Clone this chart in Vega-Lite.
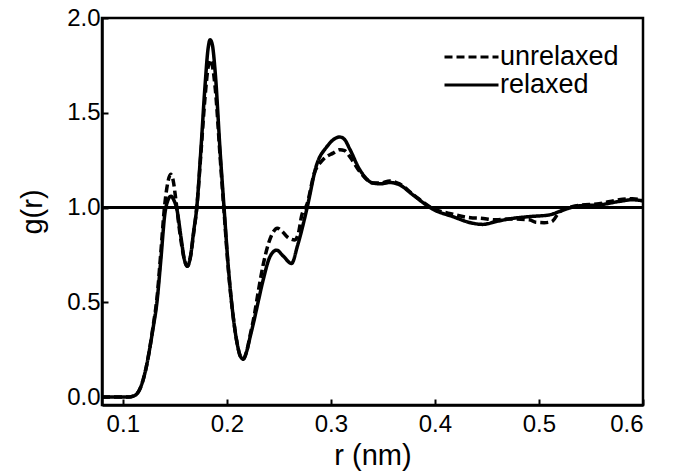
{
  "$schema": "https://vega.github.io/schema/vega-lite/v6.json",
  "width": 541,
  "height": 387,
  "autosize": {"type": "none"},
  "padding": {"left": 102, "top": 18, "right": 31, "bottom": 68},
  "background": "white",
  "config": {
    "font": "Liberation Sans",
    "view": {"stroke": "black", "strokeWidth": 2.5},
    "axis": {
      "domainColor": "black",
      "domainWidth": 2.5,
      "tickColor": "black",
      "tickWidth": 2,
      "tickSize": -6,
      "labelColor": "black",
      "labelFont": "Liberation Sans",
      "labelFontSize": 24,
      "titleColor": "black",
      "titleFont": "Liberation Sans",
      "titleFontSize": 29,
      "titleFontWeight": "normal",
      "grid": false
    }
  },
  "data": {
    "values": [
      {"series": "relaxed", "r": 0.080, "g": 0},
      {"series": "relaxed", "r": 0.095, "g": 0},
      {"series": "relaxed", "r": 0.105, "g": 0},
      {"series": "relaxed", "r": 0.110, "g": 0.005},
      {"series": "relaxed", "r": 0.114, "g": 0.02},
      {"series": "relaxed", "r": 0.117, "g": 0.05},
      {"series": "relaxed", "r": 0.120, "g": 0.10},
      {"series": "relaxed", "r": 0.123, "g": 0.17},
      {"series": "relaxed", "r": 0.126, "g": 0.26},
      {"series": "relaxed", "r": 0.129, "g": 0.36},
      {"series": "relaxed", "r": 0.1328, "g": 0.50},
      {"series": "relaxed", "r": 0.1365, "g": 0.72},
      {"series": "relaxed", "r": 0.1405, "g": 0.97},
      {"series": "relaxed", "r": 0.1435, "g": 1.04},
      {"series": "relaxed", "r": 0.1462, "g": 1.06},
      {"series": "relaxed", "r": 0.149, "g": 1.04},
      {"series": "relaxed", "r": 0.152, "g": 0.99},
      {"series": "relaxed", "r": 0.156, "g": 0.84},
      {"series": "relaxed", "r": 0.159, "g": 0.73},
      {"series": "relaxed", "r": 0.162, "g": 0.69},
      {"series": "relaxed", "r": 0.165, "g": 0.74},
      {"series": "relaxed", "r": 0.168, "g": 0.87},
      {"series": "relaxed", "r": 0.1711, "g": 1.0},
      {"series": "relaxed", "r": 0.175, "g": 1.30},
      {"series": "relaxed", "r": 0.179, "g": 1.64},
      {"series": "relaxed", "r": 0.182, "g": 1.84},
      {"series": "relaxed", "r": 0.1839, "g": 1.885},
      {"series": "relaxed", "r": 0.186, "g": 1.86},
      {"series": "relaxed", "r": 0.189, "g": 1.70},
      {"series": "relaxed", "r": 0.1935, "g": 1.30},
      {"series": "relaxed", "r": 0.1973, "g": 1.0},
      {"series": "relaxed", "r": 0.2015, "g": 0.68},
      {"series": "relaxed", "r": 0.2062, "g": 0.42},
      {"series": "relaxed", "r": 0.210, "g": 0.28},
      {"series": "relaxed", "r": 0.213, "g": 0.215},
      {"series": "relaxed", "r": 0.2158, "g": 0.20},
      {"series": "relaxed", "r": 0.219, "g": 0.24},
      {"series": "relaxed", "r": 0.2225, "g": 0.32},
      {"series": "relaxed", "r": 0.226, "g": 0.40},
      {"series": "relaxed", "r": 0.230, "g": 0.50},
      {"series": "relaxed", "r": 0.235, "g": 0.62},
      {"series": "relaxed", "r": 0.2414, "g": 0.74},
      {"series": "relaxed", "r": 0.2478, "g": 0.775},
      {"series": "relaxed", "r": 0.254, "g": 0.745},
      {"series": "relaxed", "r": 0.2622, "g": 0.705},
      {"series": "relaxed", "r": 0.268, "g": 0.80},
      {"series": "relaxed", "r": 0.2772, "g": 1.0},
      {"series": "relaxed", "r": 0.286, "g": 1.22},
      {"series": "relaxed", "r": 0.296, "g": 1.32},
      {"series": "relaxed", "r": 0.3085, "g": 1.372},
      {"series": "relaxed", "r": 0.313, "g": 1.36},
      {"series": "relaxed", "r": 0.318, "g": 1.31},
      {"series": "relaxed", "r": 0.3277, "g": 1.20},
      {"series": "relaxed", "r": 0.3405, "g": 1.129},
      {"series": "relaxed", "r": 0.348, "g": 1.125},
      {"series": "relaxed", "r": 0.3565, "g": 1.132},
      {"series": "relaxed", "r": 0.366, "g": 1.12},
      {"series": "relaxed", "r": 0.3788, "g": 1.067},
      {"series": "relaxed", "r": 0.398, "g": 0.991},
      {"series": "relaxed", "r": 0.4172, "g": 0.952},
      {"series": "relaxed", "r": 0.4363, "g": 0.917},
      {"series": "relaxed", "r": 0.446, "g": 0.911},
      {"series": "relaxed", "r": 0.4588, "g": 0.926},
      {"series": "relaxed", "r": 0.4715, "g": 0.94},
      {"series": "relaxed", "r": 0.4907, "g": 0.952},
      {"series": "relaxed", "r": 0.510, "g": 0.961},
      {"series": "relaxed", "r": 0.5195, "g": 0.979},
      {"series": "relaxed", "r": 0.529, "g": 0.997},
      {"series": "relaxed", "r": 0.5386, "g": 1.009},
      {"series": "relaxed", "r": 0.5578, "g": 1.014},
      {"series": "relaxed", "r": 0.577, "g": 1.032},
      {"series": "relaxed", "r": 0.5897, "g": 1.041},
      {"series": "relaxed", "r": 0.600, "g": 1.035},

      {"series": "unrelaxed", "r": 0.080, "g": 0},
      {"series": "unrelaxed", "r": 0.095, "g": 0},
      {"series": "unrelaxed", "r": 0.105, "g": 0},
      {"series": "unrelaxed", "r": 0.110, "g": 0.005},
      {"series": "unrelaxed", "r": 0.114, "g": 0.02},
      {"series": "unrelaxed", "r": 0.117, "g": 0.05},
      {"series": "unrelaxed", "r": 0.120, "g": 0.10},
      {"series": "unrelaxed", "r": 0.123, "g": 0.17},
      {"series": "unrelaxed", "r": 0.126, "g": 0.26},
      {"series": "unrelaxed", "r": 0.129, "g": 0.37},
      {"series": "unrelaxed", "r": 0.1328, "g": 0.52},
      {"series": "unrelaxed", "r": 0.1365, "g": 0.76},
      {"series": "unrelaxed", "r": 0.1400, "g": 1.00},
      {"series": "unrelaxed", "r": 0.1432, "g": 1.13},
      {"series": "unrelaxed", "r": 0.146, "g": 1.175},
      {"series": "unrelaxed", "r": 0.1485, "g": 1.14},
      {"series": "unrelaxed", "r": 0.151, "g": 1.04},
      {"series": "unrelaxed", "r": 0.155, "g": 0.86},
      {"series": "unrelaxed", "r": 0.159, "g": 0.73},
      {"series": "unrelaxed", "r": 0.162, "g": 0.69},
      {"series": "unrelaxed", "r": 0.165, "g": 0.74},
      {"series": "unrelaxed", "r": 0.168, "g": 0.86},
      {"series": "unrelaxed", "r": 0.1711, "g": 1.0},
      {"series": "unrelaxed", "r": 0.175, "g": 1.28},
      {"series": "unrelaxed", "r": 0.179, "g": 1.58},
      {"series": "unrelaxed", "r": 0.182, "g": 1.74},
      {"series": "unrelaxed", "r": 0.184, "g": 1.78},
      {"series": "unrelaxed", "r": 0.186, "g": 1.75},
      {"series": "unrelaxed", "r": 0.189, "g": 1.62},
      {"series": "unrelaxed", "r": 0.1935, "g": 1.27},
      {"series": "unrelaxed", "r": 0.1973, "g": 0.98},
      {"series": "unrelaxed", "r": 0.2015, "g": 0.67},
      {"series": "unrelaxed", "r": 0.2062, "g": 0.42},
      {"series": "unrelaxed", "r": 0.210, "g": 0.28},
      {"series": "unrelaxed", "r": 0.213, "g": 0.215},
      {"series": "unrelaxed", "r": 0.2158, "g": 0.20},
      {"series": "unrelaxed", "r": 0.219, "g": 0.24},
      {"series": "unrelaxed", "r": 0.2225, "g": 0.33},
      {"series": "unrelaxed", "r": 0.226, "g": 0.42},
      {"series": "unrelaxed", "r": 0.230, "g": 0.55},
      {"series": "unrelaxed", "r": 0.235, "g": 0.70},
      {"series": "unrelaxed", "r": 0.240, "g": 0.81},
      {"series": "unrelaxed", "r": 0.2445, "g": 0.87},
      {"series": "unrelaxed", "r": 0.2484, "g": 0.891},
      {"series": "unrelaxed", "r": 0.253, "g": 0.875},
      {"series": "unrelaxed", "r": 0.258, "g": 0.845},
      {"series": "unrelaxed", "r": 0.2654, "g": 0.829},
      {"series": "unrelaxed", "r": 0.269, "g": 0.87},
      {"series": "unrelaxed", "r": 0.2717, "g": 0.952},
      {"series": "unrelaxed", "r": 0.2772, "g": 1.02},
      {"series": "unrelaxed", "r": 0.284, "g": 1.18},
      {"series": "unrelaxed", "r": 0.292, "g": 1.25},
      {"series": "unrelaxed", "r": 0.3021, "g": 1.287},
      {"series": "unrelaxed", "r": 0.3085, "g": 1.305},
      {"series": "unrelaxed", "r": 0.3133, "g": 1.30},
      {"series": "unrelaxed", "r": 0.318, "g": 1.27},
      {"series": "unrelaxed", "r": 0.3277, "g": 1.19},
      {"series": "unrelaxed", "r": 0.3405, "g": 1.13},
      {"series": "unrelaxed", "r": 0.348, "g": 1.13},
      {"series": "unrelaxed", "r": 0.3565, "g": 1.14},
      {"series": "unrelaxed", "r": 0.366, "g": 1.125},
      {"series": "unrelaxed", "r": 0.3788, "g": 1.07},
      {"series": "unrelaxed", "r": 0.398, "g": 0.995},
      {"series": "unrelaxed", "r": 0.4172, "g": 0.965},
      {"series": "unrelaxed", "r": 0.4363, "g": 0.945},
      {"series": "unrelaxed", "r": 0.4428, "g": 0.944},
      {"series": "unrelaxed", "r": 0.4588, "g": 0.935},
      {"series": "unrelaxed", "r": 0.4715, "g": 0.94},
      {"series": "unrelaxed", "r": 0.4907, "g": 0.935},
      {"series": "unrelaxed", "r": 0.497, "g": 0.922},
      {"series": "unrelaxed", "r": 0.505, "g": 0.92},
      {"series": "unrelaxed", "r": 0.512, "g": 0.925},
      {"series": "unrelaxed", "r": 0.5195, "g": 0.975},
      {"series": "unrelaxed", "r": 0.529, "g": 1.0},
      {"series": "unrelaxed", "r": 0.5386, "g": 1.012},
      {"series": "unrelaxed", "r": 0.5578, "g": 1.02},
      {"series": "unrelaxed", "r": 0.577, "g": 1.041},
      {"series": "unrelaxed", "r": 0.5897, "g": 1.046},
      {"series": "unrelaxed", "r": 0.600, "g": 1.04}
    ]
  },
  "layer": [
    {
      "mark": {"type": "rule", "color": "black", "strokeWidth": 2.5},
      "encoding": {"y": {"datum": 1}}
    },
    {
      "mark": {"type": "line", "color": "black", "strokeWidth": 3.5, "interpolate": "monotone", "clip": true},
      "encoding": {
        "x": {
          "field": "r",
          "type": "quantitative",
          "scale": {"domain": [0.08, 0.6], "nice": false, "zero": false},
          "axis": {"values": [0.1, 0.2, 0.3, 0.4, 0.5, 0.6], "format": ".1f", "title": "r (nm)", "labelPadding": 13, "titlePadding": 5}
        },
        "y": {
          "field": "g",
          "type": "quantitative",
          "scale": {"domain": [-0.042, 2.0], "nice": false, "zero": false},
          "axis": {"values": [0, 0.5, 1, 1.5, 2], "format": ".1f", "title": "g(r)", "labelPadding": 8, "titlePadding": 19}
        },
        "strokeDash": {
          "field": "series",
          "type": "nominal",
          "scale": {"domain": ["unrelaxed", "relaxed"], "range": [[8, 4], [1, 0]]},
          "legend": {
            "title": null,
            "orient": "none",
            "legendX": 341,
            "legendY": 24,
            "padding": 0,
            "symbolType": "M-1,0H3",
            "symbolSize": 729,
            "symbolStrokeWidth": 3,
            "symbolStrokeColor": "black",
            "symbolFillColor": "transparent",
            "labelFont": "Liberation Sans",
            "labelFontSize": 27,
            "labelColor": "black",
            "labelOffset": 27,
            "rowPadding": -2
          }
        }
      }
    }
  ]
}
